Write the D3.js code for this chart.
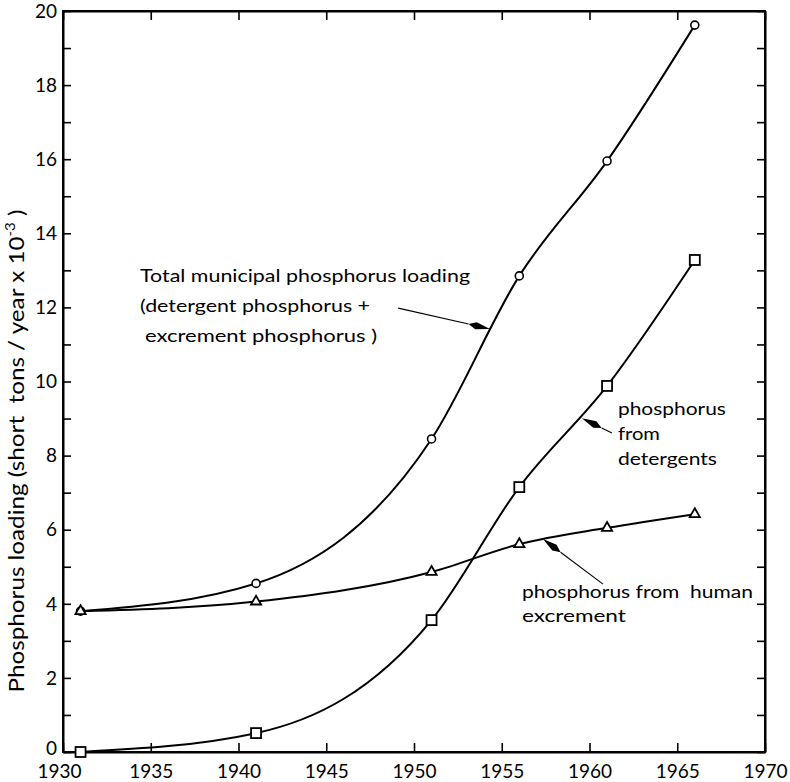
<!DOCTYPE html>
<html>
<head>
<meta charset="utf-8">
<script src="https://cdn.jsdelivr.net/npm/d3@7"></script>
<style>
  html, body { margin: 0; padding: 0; background: #fff; }
  svg { display: block; font-family: Lato, "Open Sans", sans-serif; }
</style>
</head>
<body>
<svg id="chart" width="790" height="782"></svg>
<script>
// ---------- data ----------
const years = [1931, 1941, 1951, 1956, 1961, 1966];
const totalLoading = [3.8, 4.55, 8.45, 12.85, 15.95, 19.62];
const detergentLoading = [0.0, 0.51, 3.56, 7.15, 9.88, 13.28];
const excrementLoading = [3.8, 4.06, 4.86, 5.61, 6.05, 6.42];
const xTicks = [1930, 1935, 1940, 1945, 1950, 1955, 1960, 1965, 1970];
const yTicks = [0, 1, 2, 3, 4, 5, 6, 7, 8, 9, 10, 11, 12, 13, 14, 15, 16, 17, 18, 19, 20];
const yLabelValues = [0, 2, 4, 6, 8, 10, 12, 14, 16, 18, 20];
const yTitle = "Phosphorus loading (short  tons / year x 10";
const totalLabel = ["Total municipal phosphorus loading", "(detergent phosphorus +", "excrement phosphorus )"];
const detergentLabel = ["phosphorus", "from", "detergents"];
const excrementLabel = ["phosphorus from  human", "excrement"];

// ---------- layout ----------
const plotLeft = 63, plotRight = 765, plotTop = 11, plotBottom = 752;
const svg = d3.select("#chart");
const x = d3.scaleLinear().domain([1930, 1970]).range([plotLeft, plotRight]);
const y = d3.scaleLinear().domain([0, 20]).range([plotBottom, plotTop]);

// frame
svg.append("rect")
  .attr("x", plotLeft).attr("y", plotTop)
  .attr("width", plotRight - plotLeft).attr("height", plotBottom - plotTop)
  .attr("fill", "none").attr("stroke", "#000").attr("stroke-width", 2);

const fontSize = 19;
const gL = svg.append("g").attr("transform", `translate(${plotLeft},0)`)
  .call(d3.axisLeft(y).tickValues(yTicks).tickSize(-8).tickSizeOuter(0).tickPadding(6)
    .tickFormat(d => yLabelValues.includes(d) ? d : ""));
const gR = svg.append("g").attr("transform", `translate(${plotRight},0)`)
  .call(d3.axisRight(y).tickValues(yTicks).tickSize(-8).tickSizeOuter(0).tickFormat(""));
const gB = svg.append("g").attr("transform", `translate(0,${plotBottom})`)
  .call(d3.axisBottom(x).tickValues(xTicks).tickSize(-9).tickSizeOuter(0).tickPadding(13)
    .tickFormat(d3.format("d")));
const gT = svg.append("g").attr("transform", `translate(0,${plotTop})`)
  .call(d3.axisTop(x).tickValues(xTicks).tickSize(-9).tickSizeOuter(0).tickFormat(""));

[gL, gR, gB, gT].forEach(g => {
  g.select(".domain").attr("stroke", "#000").attr("stroke-width", 2);
  g.selectAll(".tick line").attr("stroke", "#000").attr("stroke-width", 1.6);
  g.selectAll(".tick text").attr("fill", "#000").attr("font-size", fontSize)
    .attr("font-family", "Lato, sans-serif");
});
gL.selectAll(".tick text").attr("dy", d => d === 0 ? "0.15em" : "0.33em");
gB.selectAll(".tick text").attr("dx", d => d === 1930 ? -4 : 0);

// y axis title
const yt = svg.append("text")
  .attr("transform", `translate(24,451) rotate(-90)`)
  .attr("text-anchor", "middle")
  .attr("font-size", 21)
  .attr("fill", "#000")
  .attr("textLength", 483)
  .attr("lengthAdjust", "spacingAndGlyphs")
  .style("white-space", "pre");
yt.append("tspan").text(yTitle);
yt.append("tspan").attr("font-size", 13).attr("dy", -9).text("-3");
yt.append("tspan").attr("dy", 9).text(" )");

// ---------- lines ----------
const series = [
  { values: totalLoading, marker: "circle" },
  { values: detergentLoading, marker: "square" },
  { values: excrementLoading, marker: "triangle" }
];
const line = d3.line().x(d => x(d[0])).y(d => y(d[1])).curve(d3.curveMonotoneX);

series.forEach(s => {
  const pts = years.map((yr, i) => [yr, s.values[i]]);
  svg.append("path").datum(pts)
    .attr("d", line)
    .attr("fill", "none").attr("stroke", "#000").attr("stroke-width", 2);
});

series.forEach(s => {
  const pts = years.map((yr, i) => [yr, s.values[i]]);
  const g = svg.append("g");
  if (s.marker === "circle") {
    g.selectAll("circle").data(pts).join("circle")
      .attr("cx", d => x(d[0])).attr("cy", d => y(d[1])).attr("r", 4)
      .attr("fill", "#fff").attr("stroke", "#000").attr("stroke-width", 1.6);
  } else if (s.marker === "square") {
    g.selectAll("rect").data(pts).join("rect")
      .attr("x", d => x(d[0]) - 5).attr("y", d => y(d[1]) - 5)
      .attr("width", 10).attr("height", 10)
      .attr("fill", "#fff").attr("stroke", "#000").attr("stroke-width", 1.8);
  } else {
    const tri = d3.symbol().type(d3.symbolTriangle).size(45);
    g.selectAll("path").data(pts).join("path")
      .attr("transform", d => `translate(${x(d[0])},${y(d[1])})`)
      .attr("d", tri)
      .attr("fill", "#fff").attr("stroke", "#000").attr("stroke-width", 1.8);
  }
});

// ---------- annotations ----------
const annotations = [
  { lines: totalLabel, at: [1934.39, 12.69], step: 30, widths: [330, 230, 232], indent: [0, 0, 5],
    arrowFrom: [1949.1, 11.98], arrowTo: [1954.33, 11.42] },
  { lines: detergentLabel, at: [1961.62, 9.10], step: 25, widths: [108, 42, 99], indent: [0, 0, 0],
    arrowFrom: [1961.28, 8.61], arrowTo: [1959.57, 9.01] },
  { lines: excrementLabel, at: [1956.15, 4.16], step: 24, widths: [231, 104], indent: [0, 0],
    arrowFrom: [1960.77, 4.53], arrowTo: [1957.35, 5.75] }
];

annotations.forEach(a => {
  const tx = x(a.at[0]), ty = y(a.at[1]);
  a.lines.forEach((ln, i) => {
    svg.append("text")
      .attr("x", tx + a.indent[i])
      .attr("y", ty + i * a.step)
      .attr("font-size", 17)
      .attr("fill", "#000")
      .attr("textLength", a.widths[i])
      .attr("lengthAdjust", "spacingAndGlyphs")
      .style("white-space", "pre")
      .text(ln);
  });
  const x0 = x(a.arrowFrom[0]), y0 = y(a.arrowFrom[1]);
  const x1 = x(a.arrowTo[0]), y1 = y(a.arrowTo[1]);
  const dx = x1 - x0, dy = y1 - y0, len = Math.hypot(dx, dy);
  const ux = dx / len, uy = dy / len, px = -uy, py = ux;
  const headLen = 22, hw = 3.6;
  const bx = x1 - ux * headLen, by = y1 - uy * headLen;
  svg.append("line")
    .attr("x1", x0).attr("y1", y0).attr("x2", bx).attr("y2", by)
    .attr("stroke", "#000").attr("stroke-width", 1.1);
  const mx = x1 - ux * headLen * 0.65, my = y1 - uy * headLen * 0.65;
  svg.append("path")
    .attr("d", `M${bx},${by} L${mx + px * hw},${my + py * hw} L${x1},${y1} L${mx - px * hw},${my - py * hw} Z`)
    .attr("fill", "#000");
});
</script>
</body>
</html>
